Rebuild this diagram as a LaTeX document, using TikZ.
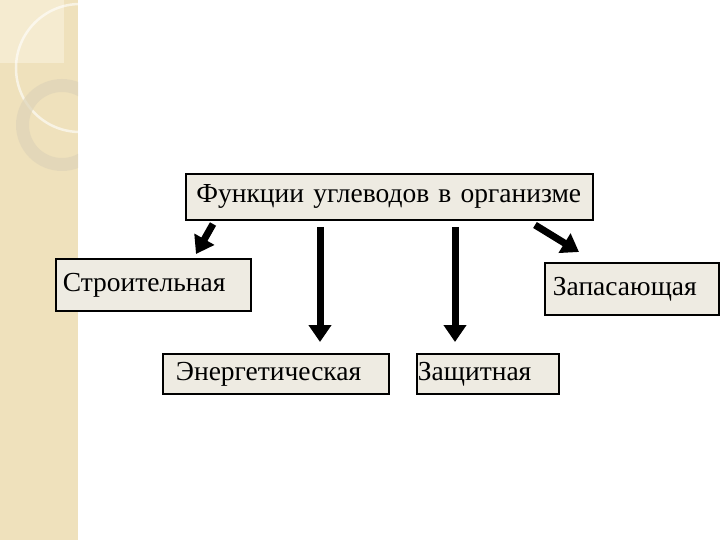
\documentclass[tikz,border=0pt]{standalone}
\usepackage{fontspec}
\setmainfont{Liberation Serif}
\usepackage{xcolor}
\usetikzlibrary{arrows.meta}
\definecolor{stripbeige}{RGB}{239,225,188}
\definecolor{stripcorner}{RGB}{245,235,208}
\definecolor{ringbeige}{RGB}{222,212,184}
\definecolor{boxfill}{RGB}{238,235,226}

\begin{document}
\begin{tikzpicture}[x=1pt,y=-1pt,
    fnbox/.style={draw,fill=boxfill,line width=1.8pt,anchor=north west,inner ysep=0pt,
      align=left,font=\fontsize{27.5}{32}\selectfont},
    bigarrow/.style={line width=7pt,-{Triangle[length=17pt,width=22pt]}}]
  \useasboundingbox (0,0) rectangle (720,540);
  % beige strip on the left
  \fill[stripbeige] (0,0) rectangle (78,540);
  \fill[stripcorner] (0,0) rectangle (64,63);
  \begin{scope}
    \clip (0,0) rectangle (78,540);
    \draw[white,opacity=0.6,line width=2.5pt] (80,68) circle[radius=64];
    \fill[ringbeige,opacity=0.7,even odd rule] (62,125) circle[radius=46] (62,125) circle[radius=33];
  \end{scope}
  % boxes
  \node[fnbox,minimum height=46pt,text width=386pt,inner xsep=10.5pt] (top) at (185,173) {Функции углеводов в организме};
  \node[fnbox,minimum height=52pt,text width=181pt,inner xsep=7pt] (stroit) at (55,258) {Строительная};
  \node[fnbox,minimum height=52pt,text width=158pt,inner xsep=8pt] (zapas) at (544,262) {Запасающая};
  \node[fnbox,minimum height=40pt,text width=200pt,inner xsep=13pt] (energ) at (162,353) {Энергетическая};
  \node[fnbox,minimum height=40pt,text width=140pt,inner xsep=1pt] (zasch) at (416,353) {Защитная};
  % arrows
  \coordinate (a1s) at (213,224);
  \coordinate (a1e) at (196,254);
  \coordinate (a2) at (320,0);
  \coordinate (a3) at (455,0);
  \coordinate (a4s) at (535,225);
  \coordinate (a4e) at (579,252);
  \draw[bigarrow] (a1s) -- (a1e);
  \draw[bigarrow,shorten <=6pt,shorten >=11pt] (top.south -| a2) -- (energ.north -| a2);
  \draw[bigarrow,shorten <=6pt,shorten >=11pt] (top.south -| a3) -- (zasch.north -| a3);
  \draw[bigarrow] (a4s) -- (a4e);
\end{tikzpicture}
\end{document}
